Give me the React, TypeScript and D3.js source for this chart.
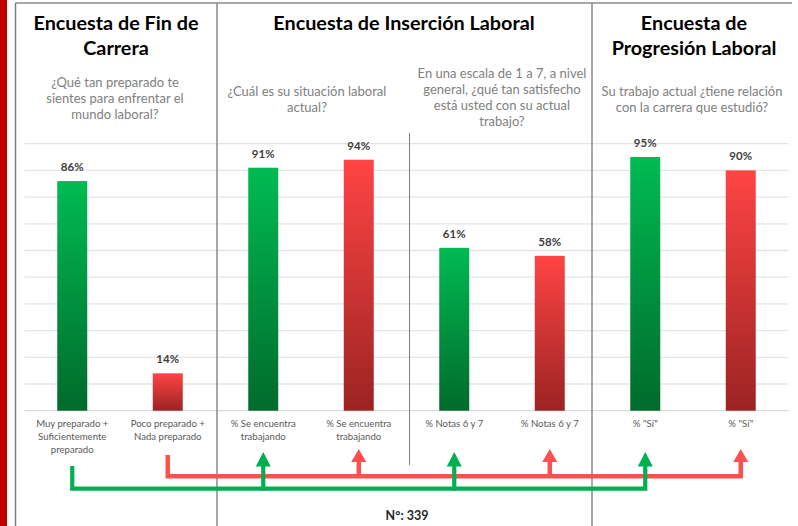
import React from "react";
import * as d3 from "d3";

const categories: string[][] = [
  ["Muy preparado +", "Suficientemente", "preparado"],
  ["Poco preparado +", "Nada preparado"],
  ["% Se encuentra", "trabajando"],
  ["% Se encuentra", "trabajando"],
  ["% Notas 6 y 7"],
  ["% Notas 6 y 7"],
  ["% \"Sí\""],
  ["% \"Sí\""],
];
const values: number[] = [0.86, 0.14, 0.91, 0.94, 0.61, 0.58, 0.95, 0.9];
const kinds: string[] = ["pos", "neg", "pos", "neg", "pos", "neg", "pos", "neg"];
const valueLabels: string[] = ["86%", "14%", "91%", "94%", "61%", "58%", "95%", "90%"];
const yTicks: number[] = [0, 0.1, 0.2, 0.3, 0.4, 0.5, 0.6, 0.7, 0.8, 0.9, 1.0];

const sectionTitles: { lines: string[]; cx: number }[] = [
  { lines: ["Encuesta de Fin de", "Carrera"], cx: 116 },
  { lines: ["Encuesta de Inserción Laboral"], cx: 404 },
  { lines: ["Encuesta de", "Progresión Laboral"], cx: 694 },
];
const questions: { lines: string[]; cx: number; y0: number }[] = [
  { lines: ["¿Qué tan preparado te", "sientes para enfrentar el", "mundo laboral?"], cx: 115, y0: 87 },
  { lines: ["¿Cuál es su situación laboral", "actual?"], cx: 307, y0: 96 },
  { lines: ["En una escala de 1 a 7, a nivel", "general, ¿qué tan satisfecho", "está usted con su actual", "trabajo?"], cx: 502, y0: 78 },
  { lines: ["Su trabajo actual ¿tiene relación", "con la carrera que estudió?"], cx: 692, y0: 96 },
];
const nLabel = "N°: 339";

const W = 798;
const H = 526;
const FONT = "Lato, 'Open Sans', sans-serif";

export default function App() {
  const idx = values.map((_, i) => String(i));
  const x = d3
    .scaleBand<string>()
    .domain(idx)
    .range([24.5, 788.5])
    .paddingInner(0.686)
    .paddingOuter(0.343);
  const y = d3.scaleLinear().domain([0, 1]).range([410.7, 143.7]);
  const cx = (i: number) => (x(String(i)) as number) + x.bandwidth() / 2;

  const green = "#00b050";
  const red = "#ff5050";

  const arrow = (i: number, yBase: number, yTip: number, color: string, key: string) => {
    const c = cx(i);
    return (
      <path
        key={key}
        d={`M${c - 7.5},${yBase} L${c},${yTip} L${c + 7.5},${yBase} Z`}
        fill={color}
      />
    );
  };

  const gY = 488.7;
  const rY = 476.3;
  const posIdx = kinds.map((k, i) => (k === "pos" ? i : -1)).filter((i) => i >= 0);
  const negIdx = kinds.map((k, i) => (k === "neg" ? i : -1)).filter((i) => i >= 0);

  return (
    <svg width={W} height={H} style={{ position: "absolute", left: 0, top: 0, background: "#fff" }}>
      <defs>
        <linearGradient id="gGreen" x1="0" y1="0" x2="0" y2="1">
          <stop offset="0" stopColor="#00bb52" />
          <stop offset="1" stopColor="#006a2c" />
        </linearGradient>
        <linearGradient id="gRed" x1="0" y1="0" x2="0" y2="1">
          <stop offset="0" stopColor="#ff4444" />
          <stop offset="1" stopColor="#9c2323" />
        </linearGradient>
      </defs>
      <rect x={0} y={0} width={W} height={H} fill="#fff" />
      <rect x={0} y={0} width={7} height={H} fill="#c00000" />
      <line x1={15.5} y1={3} x2={15.5} y2={H} stroke="#7f7f7f" strokeWidth={1.5} />
      <line x1={15} y1={3} x2={792} y2={3} stroke="#8c8c8c" strokeWidth={1.5} />

      {yTicks.map((t) => (
        <line key={t} x1={24.5} x2={788.5} y1={y(t)} y2={y(t)} stroke={t === 0 ? "#d9d9d9" : "#e4e4e4"} strokeWidth={1.3} />
      ))}

      <line x1={217} y1={3} x2={217} y2={H} stroke="#8a8a8a" strokeWidth={1.5} />
      <line x1={592} y1={3} x2={592} y2={H} stroke="#8a8a8a" strokeWidth={1.5} />
      <line x1={409.5} y1={133} x2={409.5} y2={465} stroke="#7f7f7f" strokeWidth={1} />

      {values.map((v, i) => (
        <rect
          key={i}
          x={x(String(i))}
          y={y(v)}
          width={x.bandwidth()}
          height={y(0) - y(v)}
          fill={kinds[i] === "pos" ? "url(#gGreen)" : "url(#gRed)"}
        />
      ))}
      {values.map((v, i) => (
        <text
          key={"v" + i}
          x={cx(i)}
          y={y(v) - 10}
          textAnchor="middle"
          fontFamily={FONT}
          fontWeight={700}
          fontSize={11.5}
          fill="#404040"
        >
          {valueLabels[i]}
        </text>
      ))}
      {categories.map((lines, i) => (
        <text key={"c" + i} textAnchor="middle" fontFamily={FONT} fontSize={9.6} fill="#595959">
          {lines.map((l, j) => (
            <tspan key={j} x={cx(i)} y={427 + j * 13}>
              {l}
            </tspan>
          ))}
        </text>
      ))}

      {sectionTitles.map((s, i) => (
        <text key={"t" + i} textAnchor="middle" fontFamily={FONT} fontWeight={700} fontSize={19.8} fill="#000">
          {s.lines.map((l, j) => (
            <tspan key={j} x={s.cx} y={30 + j * 25}>
              {l}
            </tspan>
          ))}
        </text>
      ))}
      {questions.map((q, i) => (
        <text key={"q" + i} textAnchor="middle" fontFamily={FONT} fontSize={13} fill="#808080">
          {q.lines.map((l, j) => (
            <tspan key={j} x={q.cx} y={q.y0 + j * 16}>
              {l}
            </tspan>
          ))}
        </text>
      ))}

      <path
        d={`M${cx(negIdx[0])},455 L${cx(negIdx[0])},${rY} L${cx(negIdx[negIdx.length - 1])},${rY} L${cx(negIdx[negIdx.length - 1])},462`}
        fill="none"
        stroke={red}
        strokeWidth={4.5}
        strokeLinejoin="miter"
      />
      {negIdx.slice(1, -1).map((i) => (
        <line key={"rs" + i} x1={cx(i)} x2={cx(i)} y1={rY} y2={461} stroke={red} strokeWidth={4.5} />
      ))}
      {negIdx.slice(1).map((i) => arrow(i, 462, 449, red, "ra" + i))}

      <path
        d={`M${cx(posIdx[0])},466 L${cx(posIdx[0])},${gY} L${cx(posIdx[posIdx.length - 1])},${gY} L${cx(posIdx[posIdx.length - 1])},466`}
        fill="none"
        stroke={green}
        strokeWidth={4.2}
        strokeLinejoin="miter"
      />
      {posIdx.slice(1, -1).map((i) => (
        <line key={"gs" + i} x1={cx(i)} x2={cx(i)} y1={gY + 2} y2={465} stroke={green} strokeWidth={4.2} />
      ))}
      {posIdx.slice(1).map((i) => arrow(i, 466.5, 452, green, "ga" + i))}

      <text x={407} y={520} textAnchor="middle" fontFamily={FONT} fontWeight={700} fontSize={12.5} fill="#262626">
        {nLabel}
      </text>
    </svg>
  );
}
